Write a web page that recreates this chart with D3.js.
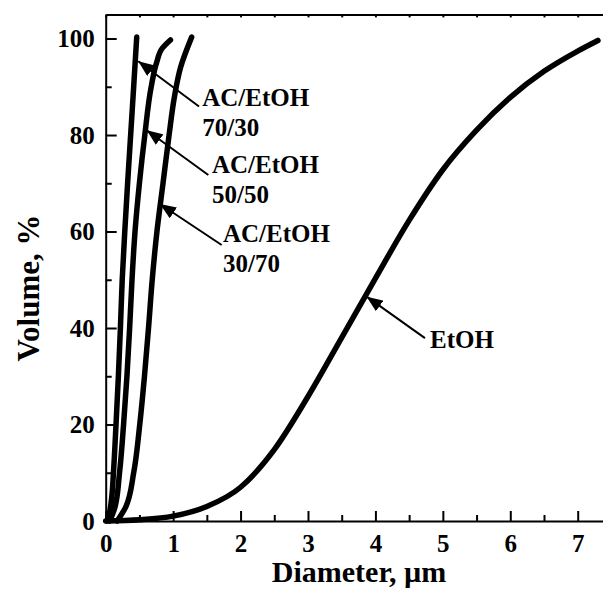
<!DOCTYPE html>
<html>
<head>
<meta charset="utf-8">
<script src="https://cdn.jsdelivr.net/npm/d3@7"></script>
<style>
  body { margin: 0; background: #fff; }
  text { font-family: "Liberation Serif", "Times New Roman", serif; font-weight: bold; fill: #000; }
  .axis path, .axis line { stroke: #000; }
</style>
</head>
<body>
<svg id="svg"></svg>
<script>
// cumulative volume curves: [diameter um, volume %]
var etoh = [[0, 0], [0.5, 0.25], [1.0, 1.0], [1.5, 3.0], [2.0, 7.0], [2.5, 14.8], [3.0, 25.8],
    [3.5, 38.0], [4.0, 50.3], [4.5, 62.3], [5.0, 72.8], [5.5, 81.0], [6.0, 87.8],
    [6.5, 93.2], [7.0, 97.4], [7.3, 99.6]]
var ac7030 = [[0.02, 0], [0.06, 2], [0.09, 5], [0.115, 10], [0.153, 20], [0.188, 30], [0.218, 40],
    [0.245, 50], [0.283, 60], [0.325, 70], [0.37, 80], [0.415, 90], [0.46, 100.3]]
var ac5050 = [[0.06, 0], [0.14, 3], [0.205, 10], [0.265, 20], [0.315, 30], [0.355, 40], [0.39, 50],
    [0.435, 60], [0.5, 70], [0.58, 80], [0.675, 90], [0.755, 95], [0.84, 98], [0.96, 99.7]]
var ac3070 = [[0.17, 0], [0.30, 3], [0.415, 10], [0.505, 20], [0.575, 30], [0.635, 40], [0.69, 50],
    [0.76, 60], [0.85, 70], [0.94, 80], [1.02, 88], [1.11, 94], [1.275, 100.3]]

var xTicks = [0, 1, 2, 3, 4, 5, 6, 7]
var yTicks = [0, 20, 40, 60, 80, 100]
var xLabel = "Diameter, \u00b5m"
var yLabel = "Volume, %"

// label lines, arrow tip and tail, text anchor (all in data units)
var notes = [
    { lines: ["AC/EtOH", "70/30"], tip: [0.483, 95.3], tail: [1.384, 85.9], at: [1.432, 86.0] },
    { lines: ["AC/EtOH", "50/50"], tip: [0.608, 81.0], tail: [1.522, 71.7], at: [1.576, 72.2] },
    { lines: ["AC/EtOH", "30/70"], tip: [0.805, 65.7], tail: [1.72, 57.2], at: [1.74, 57.8] },
    { lines: ["EtOH"], tip: [3.87, 46.5], tail: [4.735, 37.9], at: [4.81, 35.9] }
]

var W = 603, H = 590
var padLeft = 105.7, padTop = 14.4, padBottom = 521

var x = d3.scaleLinear().domain([0, 7.5]).range([padLeft, padLeft + 7.5 * 67.43])
var y = d3.scaleLinear().domain([0, 105]).range([padBottom, padTop])

var svg = d3.select("#svg").attr("width", W).attr("height", H)

svg.append("rect").attr("width", W).attr("height", H).attr("fill", "#fff")

// arrow head
svg.append("defs").append("marker")
    .attr("id", "head")
    .attr("viewBox", "0 0 16 13")
    .attr("refX", 16)
    .attr("refY", 6.5)
    .attr("markerWidth", 16)
    .attr("markerHeight", 13)
    .attr("markerUnits", "userSpaceOnUse")
    .attr("orient", "auto")
    .append("path")
    .attr("d", "M0,0 L16,6.5 L0,13 Z")
    .attr("fill", "#000")

// axes, ticks all point inside
var yMajor = svg.append("g").attr("class", "axis")
    .attr("transform", "translate(" + padLeft + ",0)")
    .call(d3.axisLeft(y).tickValues(yTicks).tickSize(-11).tickSizeOuter(0).tickPadding(11))
yMajor.selectAll("text").attr("font-size", 25)
yMajor.select(".domain").attr("stroke-width", 2)
yMajor.selectAll(".tick line").attr("stroke-width", 2)

svg.append("g").attr("class", "axis")
    .attr("transform", "translate(" + padLeft + ",0)")
    .call(d3.axisLeft(y).tickValues([10, 30, 50, 70, 90]).tickSize(-6).tickSizeOuter(0).tickFormat(""))
    .call(function (g) { g.select(".domain").remove() })
    .selectAll(".tick line").attr("stroke-width", 2)

var xMajor = svg.append("g").attr("class", "axis")
    .attr("transform", "translate(0," + padBottom + ")")
    .call(d3.axisBottom(x).tickValues(xTicks).tickSize(-10).tickSizeOuter(0).tickPadding(13))
xMajor.selectAll("text").attr("font-size", 25)
xMajor.select(".domain").attr("stroke-width", 2)
xMajor.selectAll(".tick line").attr("stroke-width", 2)

svg.append("g").attr("class", "axis")
    .attr("transform", "translate(0," + padBottom + ")")
    .call(d3.axisBottom(x).tickValues(d3.range(0.5, 7.6, 1)).tickSize(-6).tickSizeOuter(0).tickFormat(""))
    .call(function (g) { g.select(".domain").remove() })
    .selectAll(".tick line").attr("stroke-width", 2)

var xTop = svg.append("g").attr("class", "axis")
    .attr("transform", "translate(0," + padTop + ")")
    .call(d3.axisTop(x).tickValues(d3.range(0, 7.6, 0.5)).tickSize(-3).tickSizeOuter(0).tickFormat(""))
xTop.select(".domain").attr("stroke-width", 2)
xTop.selectAll(".tick line").attr("stroke-width", 2)

// axis titles
svg.append("text")
    .attr("x", 359)
    .attr("y", 582)
    .attr("text-anchor", "middle")
    .attr("font-size", 30)
    .text(xLabel)

svg.append("text")
    .attr("transform", "translate(39,288) rotate(-90)")
    .attr("text-anchor", "middle")
    .attr("font-size", 31)
    .text(yLabel)

// curves: the steep ones are smoothed along y, EtOH along x
var lineY = d3.line()
    .x(function (d) { return x(d[0]) })
    .y(function (d) { return y(d[1]) })
    .curve(d3.curveMonotoneY)
var lineX = d3.line()
    .x(function (d) { return x(d[0]) })
    .y(function (d) { return y(d[1]) })
    .curve(d3.curveMonotoneX)

var curves = [
    { pts: ac7030, gen: lineY },
    { pts: ac5050, gen: lineY },
    { pts: ac3070, gen: lineY },
    { pts: etoh, gen: lineX }
]

svg.selectAll(".curve")
    .data(curves)
    .enter().append("path")
    .attr("class", "curve")
    .attr("d", function (d) { return d.gen(d.pts) })
    .attr("fill", "none")
    .attr("stroke", "#000")
    .attr("stroke-width", 5.5)
    .attr("stroke-linejoin", "round")
    .attr("stroke-linecap", "round")

// annotations
var ann = svg.selectAll(".note")
    .data(notes)
    .enter().append("g")
    .attr("class", "note")

ann.append("line")
    .attr("x1", function (d) { return x(d.tail[0]) })
    .attr("y1", function (d) { return y(d.tail[1]) })
    .attr("x2", function (d) { return x(d.tip[0]) })
    .attr("y2", function (d) { return y(d.tip[1]) })
    .attr("stroke", "#000")
    .attr("stroke-width", 2)
    .attr("marker-end", "url(#head)")

ann.append("text")
    .attr("x", function (d) { return x(d.at[0]) })
    .attr("y", function (d) { return y(d.at[1]) })
    .attr("font-size", 25)
    .selectAll("tspan")
    .data(function (d) { return d.lines })
    .enter().append("tspan")
    .attr("x", function () { return d3.select(this.parentNode).attr("x") })
    .attr("dy", function (d, i) { return i ? 30 : 0 })
    .text(function (d) { return d })
</script>
</body>
</html>
